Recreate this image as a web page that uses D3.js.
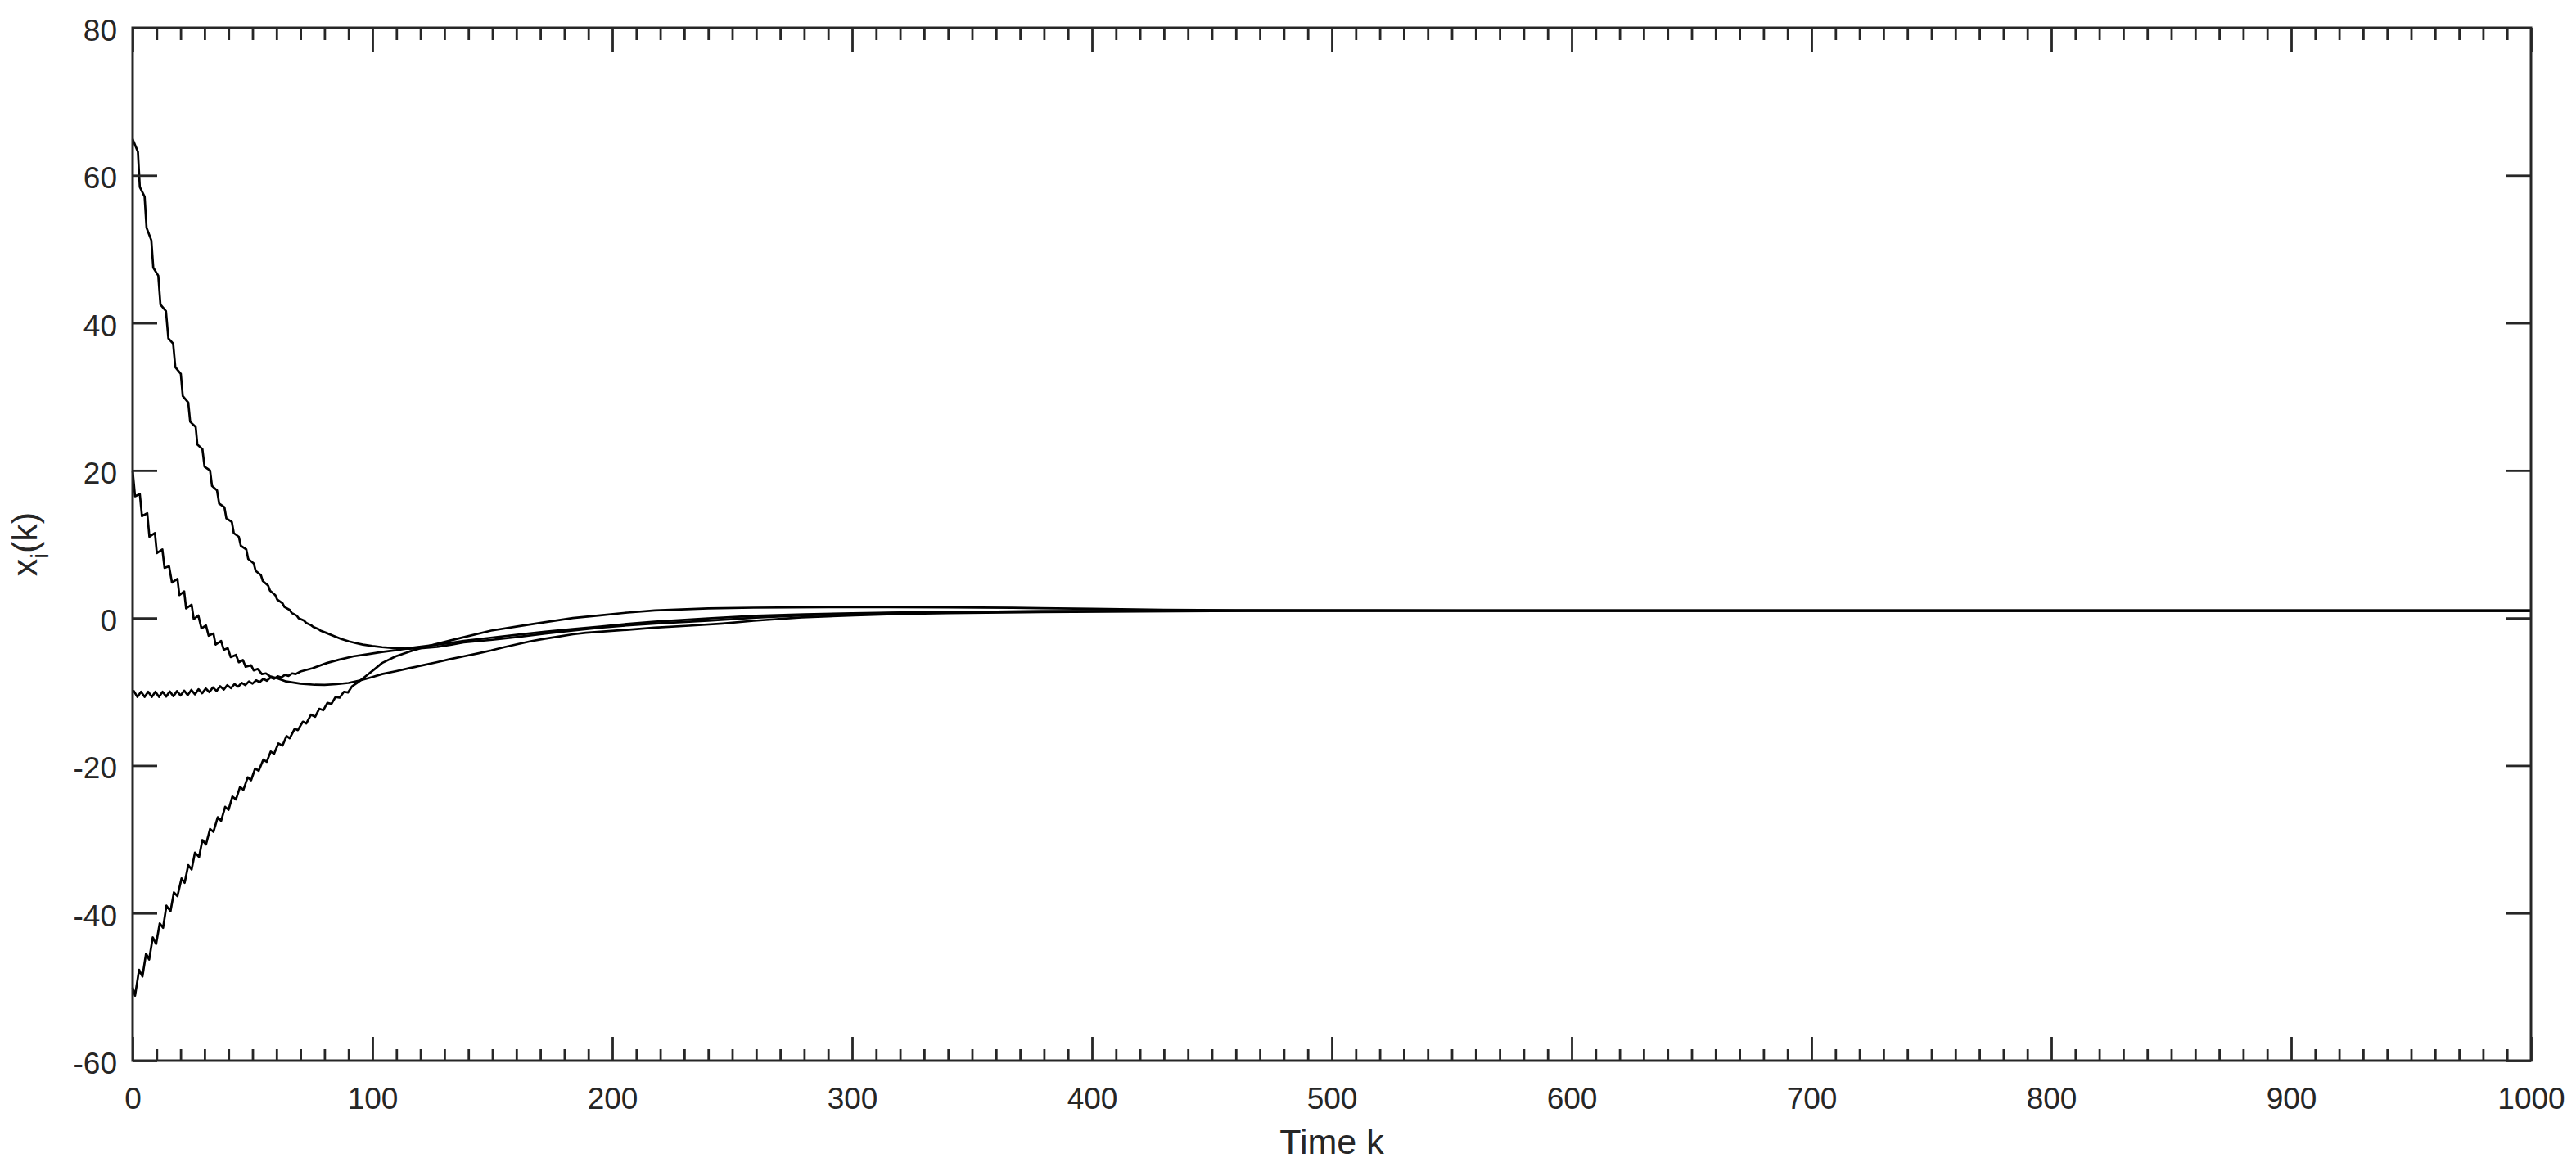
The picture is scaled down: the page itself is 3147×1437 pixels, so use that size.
<!DOCTYPE html>
<html>
<head>
<meta charset="utf-8">
<script src="https://cdn.jsdelivr.net/npm/d3@7"></script>
<style>
  html, body { margin: 0; padding: 0; background: #ffffff; }
  svg { display: block; }
  text { font-family: "Liberation Sans", Arial, Helvetica, sans-serif; fill: #262626; }
</style>
</head>
<body>
<svg id="chart" width="3147" height="1437"></svg>
<script>
// ---------------- data ----------------
const xMajorTicks = [0, 100, 200, 300, 400, 500, 600, 700, 800, 900, 1000];
const xMinorTicks = [10,20,30,40,50,60,70,80,90,110,120,130,140,150,160,170,180,190,210,220,230,240,250,260,270,280,290,310,320,330,340,350,360,370,380,390,410,420,430,440,450,460,470,480,490,510,520,530,540,550,560,570,580,590,610,620,630,640,650,660,670,680,690,710,720,730,740,750,760,770,780,790,810,820,830,840,850,860,870,880,890,910,920,930,940,950,960,970,980,990];
const yMajorTicks = [-60, -40, -20, 0, 20, 40, 60, 80];
const xLabel = "Time k";

// [k, x_i(k)]
const agent1 = [[0,64.9],[2.2,63.2],[3.0,58.4],[5.0,57.1],[5.8,52.9],[7.8,51.2],[8.6,47.5],[10.7,46.4],[11.6,42.5],[13.9,41.6],[14.9,37.9],[16.9,37.2],[17.8,34.0],[20.1,33.1],[20.9,30.1],[23.2,29.2],[24.0,26.6],[26.3,25.9],[27.0,23.5],[29.1,22.9],[30.0,20.5],[32.3,20.0],[33.1,17.9],[35.2,17.3],[36.1,15.5],[38.3,15.0],[39.1,13.5],[41.4,13.0],[42.2,11.5],[44.3,11.0],[45.1,9.8],[47.4,9.3],[48.2,8.0],[50.5,7.4],[51.3,6.4],[53.5,5.8],[54.3,5.0],[56.5,4.4],[57.3,3.7],[59.5,3.1],[60.3,2.5],[62.5,2.0],[63.3,1.5],[65.5,1.1],[66.3,0.7],[68.5,0.3],[69.3,-0.05],[71.5,-0.35],[72.3,-0.65],[74.5,-1.0],[75.3,-1.2],[77.5,-1.5],[78.3,-1.7],[81,-2.05],[84,-2.45],[87,-2.85],[90,-3.15],[93,-3.4],[96,-3.6],[100,-3.8],[104,-3.95],[110,-4.1],[115.4,-4.15],[121,-4.07],[127,-3.9],[133,-3.6],[138,-3.3],[150,-2.95],[161,-2.55],[172,-2.1],[183.6,-1.7],[195,-1.3],[206,-1.0],[217.7,-0.75],[240,-0.35],[260,0.05],[280,0.35],[300,0.55],[320,0.7],[340,0.8],[370,0.9],[400,0.95],[440,0.99],[500,1.0],[600,1.0],[700,1.0],[800,1.0],[900,1.0],[1000,1.0]];

const agent2 = [[0,20.0],[1.0,16.5],[3.0,16.8],[3.9,13.8],[6.1,14.2],[7.0,11.0],[9.3,11.5],[10.1,8.8],[12.4,9.3],[13.3,6.8],[15.2,7.0],[16.4,4.8],[18.7,5.3],[19.5,3.1],[21.5,3.6],[22.3,1.3],[24.6,1.8],[25.5,-0.15],[27.4,0.35],[28.7,-1.4],[30.6,-1.0],[31.7,-2.4],[33.7,-2.1],[34.6,-3.6],[36.9,-3.1],[38.0,-4.3],[39.7,-4.1],[40.9,-5.3],[43.1,-5.0],[44.3,-6.0],[46.0,-5.7],[47.1,-6.6],[49.4,-6.4],[50.5,-7.1],[52.2,-6.9],[53.9,-7.6],[55.6,-7.5],[57.3,-7.9],[60.5,-8.2],[64,-8.6],[70,-8.9],[76,-9.05],[80,-9.07],[85,-8.97],[90,-8.8],[95,-8.45],[100,-8.0],[104,-7.6],[110,-7.2],[115.4,-6.8],[121,-6.4],[126.7,-6.0],[132,-5.6],[138,-5.2],[144,-4.8],[149.5,-4.4],[155,-3.95],[161,-3.5],[166,-3.15],[172,-2.8],[178,-2.5],[183.6,-2.2],[189,-2.0],[195,-1.85],[206,-1.6],[217.7,-1.3],[232,-1.04],[246,-0.74],[259,-0.37],[279,0.08],[301,0.37],[320,0.55],[340,0.67],[372,0.78],[420,0.9],[470,0.97],[520,1.0],[600,1.0],[700,1.0],[800,1.0],[900,1.0],[1000,1.0]];

const agent3 = [[0,-10.0],[0.5,-9.9],[2,-10.7],[3.5,-10.0],[5,-10.7],[6.5,-10.0],[8,-10.7],[9.5,-10.0],[11,-10.7],[12.5,-10.0],[14,-10.65],[15.5,-9.95],[17,-10.6],[18.5,-9.9],[20,-10.5],[21.5,-9.85],[23,-10.45],[24.5,-9.75],[26,-10.35],[27.5,-9.65],[29,-10.2],[30.5,-9.55],[32,-10.05],[33.5,-9.4],[35,-9.9],[36.5,-9.25],[38,-9.7],[39.5,-9.1],[41,-9.5],[42.5,-8.95],[44,-9.3],[45.5,-8.8],[47,-9.1],[48.5,-8.6],[50,-8.9],[51.5,-8.45],[53,-8.7],[54.5,-8.25],[56,-8.5],[57.5,-8.05],[59,-8.25],[60.5,-7.9],[62,-8.05],[63.5,-7.7],[65,-7.85],[66.5,-7.5],[68,-7.6],[70,-7.25],[75,-6.8],[81,-6.1],[86,-5.65],[92,-5.2],[98,-4.9],[104,-4.6],[110,-4.35],[115,-4.1],[121,-3.85],[127,-3.6],[133,-3.35],[138,-3.1],[150,-2.65],[161,-2.25],[172,-1.85],[183.6,-1.5],[195,-1.15],[206,-0.8],[217.7,-0.5],[240,-0.05],[260,0.3],[280,0.5],[300,0.65],[320,0.75],[340,0.82],[370,0.9],[400,0.95],[440,0.99],[500,1.0],[600,1.0],[700,1.0],[800,1.0],[900,1.0],[1000,1.0]];

const agent4 = [[0,-50.1],[1.0,-51.2],[2.7,-47.7],[4.1,-48.6],[5.6,-45.5],[6.9,-46.3],[8.4,-43.3],[9.8,-44.2],[11.3,-41.4],[12.7,-42.0],[14.1,-39.0],[15.8,-39.75],[17.2,-37.2],[18.7,-37.7],[20.4,-35.3],[21.7,-35.9],[23.2,-33.5],[24.6,-34.1],[26.0,-31.8],[27.7,-32.4],[29.1,-30.1],[30.6,-30.7],[32.3,-28.6],[33.7,-29.0],[35.5,-27.0],[36.9,-27.5],[38.6,-25.6],[40.0,-26.0],[41.6,-24.2],[43.1,-24.6],[44.8,-22.9],[46.2,-23.3],[48.0,-21.6],[49.4,-22.0],[51.1,-20.4],[52.6,-20.7],[54.5,-19.2],[55.9,-19.5],[57.6,-18.1],[59.0,-18.4],[60.8,-17.0],[62.5,-17.3],[64.2,-16.0],[65.5,-16.3],[67.6,-15.0],[68.9,-15.2],[71.0,-14.05],[72.4,-14.3],[74.4,-13.1],[76.1,-13.4],[77.8,-12.3],[79.5,-12.5],[81.2,-11.5],[82.9,-11.65],[84.6,-10.7],[86.3,-10.8],[88.1,-10.0],[89.8,-10.1],[91.5,-9.25],[94,-8.7],[97.5,-7.8],[101,-6.9],[104,-6.1],[109.7,-5.2],[115.4,-4.55],[121,-4.0],[126.7,-3.5],[132.4,-3.05],[138,-2.6],[149.5,-1.7],[161,-1.1],[172.2,-0.55],[183.6,0.0],[195,0.37],[206.4,0.74],[217.7,1.02],[240,1.3],[259,1.4],[290,1.47],[315,1.48],[340,1.45],[367,1.38],[400,1.25],[430,1.12],[460,1.05],[520,1.02],[600,1.0],[700,1.0],[800,1.0],[900,1.0],[1000,1.0]];

const seriesList = [agent1, agent2, agent3, agent4];

// ---------------- layout ----------------
const plotLeft = 162, plotRight = 3092, plotTop = 34, plotBottom = 1296;
const axisColor = "#262626";

const svg = d3.select("#chart");
const x = d3.scaleLinear().domain([0, 1000]).range([plotLeft, plotRight]);
const y = d3.scaleLinear().domain([-60, 80]).range([plotBottom, plotTop]);
const plainNum = d => String(d);   // hyphen-minus, as in the reference

// lines
const line = d3.line().x(d => x(d[0])).y(d => y(d[1]));
svg.append("g")
  .selectAll("path")
  .data(seriesList)
  .join("path")
  .attr("d", line)
  .attr("fill", "none")
  .attr("stroke", "#000000")
  .attr("stroke-width", 2.7)
  .attr("stroke-linejoin", "round");

function styleAxis(g) {
  g.select(".domain").remove();
  g.selectAll(".tick line").attr("stroke", axisColor).attr("stroke-width", 2.8);
  g.selectAll(".tick text").attr("fill", axisColor).style("font-size", "37px")
    .style("font-family", '"Liberation Sans", Arial, Helvetica, sans-serif');
}

// bottom axis: major + minor
svg.append("g").attr("transform", `translate(0,${plotBottom})`)
  .call(d3.axisBottom(x).tickValues(xMajorTicks).tickSize(-29).tickPadding(33).tickFormat(plainNum))
  .call(styleAxis);
svg.append("g").attr("transform", `translate(0,${plotBottom})`)
  .call(d3.axisBottom(x).tickValues(xMinorTicks).tickSize(-14).tickFormat(""))
  .call(styleAxis);
// top axis
svg.append("g").attr("transform", `translate(0,${plotTop})`)
  .call(d3.axisTop(x).tickValues(xMajorTicks).tickSize(-29).tickFormat(""))
  .call(styleAxis);
svg.append("g").attr("transform", `translate(0,${plotTop})`)
  .call(d3.axisTop(x).tickValues(xMinorTicks).tickSize(-15).tickFormat(""))
  .call(styleAxis);
// left axis
svg.append("g").attr("transform", `translate(${plotLeft},0)`)
  .call(d3.axisLeft(y).tickValues(yMajorTicks).tickSize(-30).tickPadding(19).tickFormat(plainNum))
  .call(styleAxis)
  .call(g => g.selectAll(".tick text").attr("dy", "0.42em"));
// right axis
svg.append("g").attr("transform", `translate(${plotRight},0)`)
  .call(d3.axisRight(y).tickValues(yMajorTicks).tickSize(-30).tickFormat(""))
  .call(styleAxis);

// box
svg.append("rect")
  .attr("x", plotLeft).attr("y", plotTop)
  .attr("width", plotRight - plotLeft).attr("height", plotBottom - plotTop)
  .attr("fill", "none").attr("stroke", axisColor).attr("stroke-width", 3);

// x label
svg.append("text")
  .attr("x", (plotLeft + plotRight) / 2).attr("y", 1410)
  .attr("text-anchor", "middle")
  .style("font-size", "43px")
  .text(xLabel);

// y label x_i(k)
const yl = svg.append("text")
  .attr("transform", `translate(45,${(plotTop + plotBottom) / 2}) rotate(-90)`)
  .attr("text-anchor", "middle")
  .style("font-size", "43px");
yl.append("tspan").text("x");
yl.append("tspan").attr("dy", 14).style("font-size", "30px").text("i");
yl.append("tspan").attr("dy", -14).text("(k)");
</script>
</body>
</html>
